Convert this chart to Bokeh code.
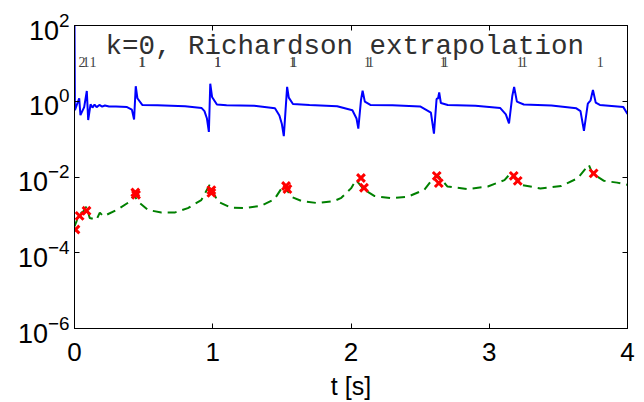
from bokeh.plotting import figure
from bokeh.models import (FixedTicker, LinearAxis, LogAxis, Range1d, ColumnDataSource,
                          CustomLabelingPolicy)
from bokeh.core.properties import value
from bokeh.embed import file_html
from bokeh.resources import INLINE

# ---- data ----
title_text = "k=0, Richardson extrapolation"
x_ticks = [0, 1, 2, 3, 4]
y_ticks = [1e-6, 1e-4, 1e-2, 1e0, 1e2]

blue_t = [0.000, 0.003, 0.034, 0.043, 0.070, 0.089, 0.099, 0.116, 0.13, 0.145,
          0.16, 0.18, 0.20, 0.22, 0.25, 0.30, 0.38, 0.415, 0.431, 0.443,
          0.455, 0.49, 0.6, 0.8, 0.92, 0.94, 0.958, 0.972, 0.982, 0.995,
          1.03, 1.1, 1.3, 1.45, 1.482, 1.50, 1.514, 1.538, 1.55, 1.58,
          1.7, 1.9, 2.01, 2.04, 2.053, 2.072, 2.084, 2.10, 2.14, 2.3,
          2.5, 2.578, 2.60, 2.619, 2.63, 2.638, 2.65, 2.70, 2.9, 3.08,
          3.12, 3.143, 3.167, 3.18, 3.20, 3.25, 3.45, 3.63, 3.66, 3.685,
          3.713, 3.733, 3.75, 3.77, 3.80, 3.97, 4.0]
blue_v = [120, 0.58, 1.2, 0.43, 0.70, 1.87, 0.32, 0.83, 0.68, 0.82,
          0.70, 0.80, 0.72, 0.77, 0.73, 0.73, 0.70, 0.60, 0.33, 2.5,
          1.2, 0.80, 0.78, 0.74, 0.66, 0.55, 0.35, 0.155, 2.9, 1.3,
          0.82, 0.79, 0.76, 0.65, 0.42, 0.25, 0.12, 2.4, 1.25, 0.85,
          0.80, 0.74, 0.58, 0.35, 0.19, 1.06, 1.9, 0.98, 0.80, 0.78,
          0.73, 0.50, 0.14, 1.15, 1.2, 1.7, 0.9, 0.80, 0.76, 0.66,
          0.45, 0.26, 1.4, 2.4, 0.98, 0.82, 0.77, 0.65, 0.55, 0.165,
          0.87, 1.06, 2.0, 0.92, 0.80, 0.70, 0.46]

green_t = [0.0, 0.014, 0.027, 0.063, 0.087, 0.11, 0.159, 0.183, 0.207, 0.231,
           0.315, 0.40, 0.430, 0.46, 0.532, 0.628, 0.724, 0.82, 0.917, 0.977,
           1.037, 1.133, 1.23, 1.35, 1.446, 1.514, 1.567, 1.64, 1.76, 1.88,
           1.93, 2.0, 2.036, 2.096, 2.168, 2.29, 2.41, 2.53, 2.59, 2.626,
           2.698, 2.84, 2.99, 3.11, 3.155, 3.23, 3.37, 3.52, 3.64, 3.72,
           3.745, 3.83, 3.925, 4.0]
green_v = [5.0e-4, 6.6e-4, 1.0e-3, 1.23e-3, 1.66e-3, 8.3e-4, 7.4e-4, 1.15e-3, 9.3e-4, 1.0e-3,
           1.41e-3, 2.24e-3, 3.4e-3, 2.24e-3, 1.35e-3, 1.15e-3, 1.15e-3, 1.51e-3, 2.45e-3, 6.2e-3,
           2.24e-3, 1.55e-3, 1.51e-3, 1.74e-3, 2.57e-3, 6.2e-3, 3.0e-3, 2.34e-3, 2.04e-3, 2.34e-3,
           2.82e-3, 5.0e-3, 8.3e-3, 4.6e-3, 3.16e-3, 2.75e-3, 3.0e-3, 4.6e-3, 8.7e-3, 1.12e-2,
           5.6e-3, 4.8e-3, 5.6e-3, 8.3e-3, 1.26e-2, 6.2e-3, 5.0e-3, 5.75e-3, 9.3e-3, 2.1e-2,
           1.26e-2, 7.9e-3, 7.1e-3, 6.2e-3]

red_t = [0.007, 0.037, 0.087, 0.44, 0.445, 0.99, 0.99, 1.53, 1.54, 2.072,
         2.094, 2.62, 2.635, 3.177, 3.206, 3.755]
red_v = [4.1e-4, 9.4e-4, 1.28e-3, 3.9e-3, 3.4e-3, 4.5e-3, 3.8e-3, 5.8e-3, 4.8e-3, 9.4e-3,
         5.2e-3, 1.07e-2, 6.9e-3, 1.07e-2, 7.9e-3, 1.25e-2]
red_labels = ["2", "1", "1", "1", "1", "1", "1", "1", "1", "1",
              "1", "1", "1", "1", "1", "1"]
label_level = 10.8
title_x, title_y = 1.955, 28.0

# ---- figure ----
p = figure(width=644, height=402, x_range=Range1d(0, 4), y_range=Range1d(1e-6, 1e2),
           y_axis_type="log", output_backend="svg", toolbar_location=None,
           min_border_left=74, min_border_right=17, min_border_top=25, min_border_bottom=72)
p.xgrid.visible = False
p.ygrid.visible = False
p.outline_line_color = "black"
p.outline_line_width = 1
p.background_fill_color = "white"
p.border_fill_color = "white"

FONT = "Liberation Sans"
no_labels = CustomLabelingPolicy(code="return []")

def style_axis(ax, size=None):
    ax.major_tick_in = 5
    ax.major_tick_out = 0
    ax.minor_tick_line_color = None
    ax.axis_line_color = "black"
    ax.major_tick_line_color = "black"
    if size:
        ax.major_label_text_font = FONT
        ax.major_label_text_font_size = size
        ax.major_label_text_color = "black"
    else:
        ax.major_label_policy = no_labels
        ax.major_label_text_font_size = "1px"
        ax.major_label_standoff = 0

p.xaxis.ticker = FixedTicker(ticks=x_ticks)
p.yaxis.ticker = FixedTicker(ticks=y_ticks)
style_axis(p.xaxis[0], "26px")
style_axis(p.yaxis[0], "27px")
p.xaxis.major_label_standoff = 14
p.yaxis.major_label_standoff = 5
p.xaxis.axis_label = "t [s]"
p.xaxis.axis_label_text_font = FONT
p.xaxis.axis_label_text_font_size = "25px"
p.xaxis.axis_label_text_font_style = "normal"
p.xaxis.axis_label_text_color = "black"
p.xaxis.axis_label_standoff = 8

top_ax = LinearAxis(ticker=FixedTicker(ticks=x_ticks))
style_axis(top_ax)
p.add_layout(top_ax, "above")
right_ax = LogAxis(ticker=FixedTicker(ticks=y_ticks))
style_axis(right_ax)
p.add_layout(right_ax, "right")

p.line(blue_t, blue_v, line_color="#0000ff", line_width=2)
p.line(green_t, green_v, line_color="#008000", line_width=2, line_dash="9 6")
p.scatter(red_t, red_v, marker="x", size=11, line_color="#ff0000", line_width=3)

src = ColumnDataSource(dict(x=red_t, y=[label_level] * len(red_t), text=red_labels))
p.text(x="x", y="y", text="text", source=src, text_font=value("Liberation Serif"),
       text_font_size="14px", text_color="#404040", text_align="left",
       text_baseline="alphabetic", x_offset=3)

p.text(x=[title_x], y=[title_y], text=[title_text], text_font=value("Liberation Mono"),
       text_font_size="27.5px", text_color="#303030", text_align="center",
       text_baseline="alphabetic")

open("out.html", "w").write(file_html(p, INLINE))
